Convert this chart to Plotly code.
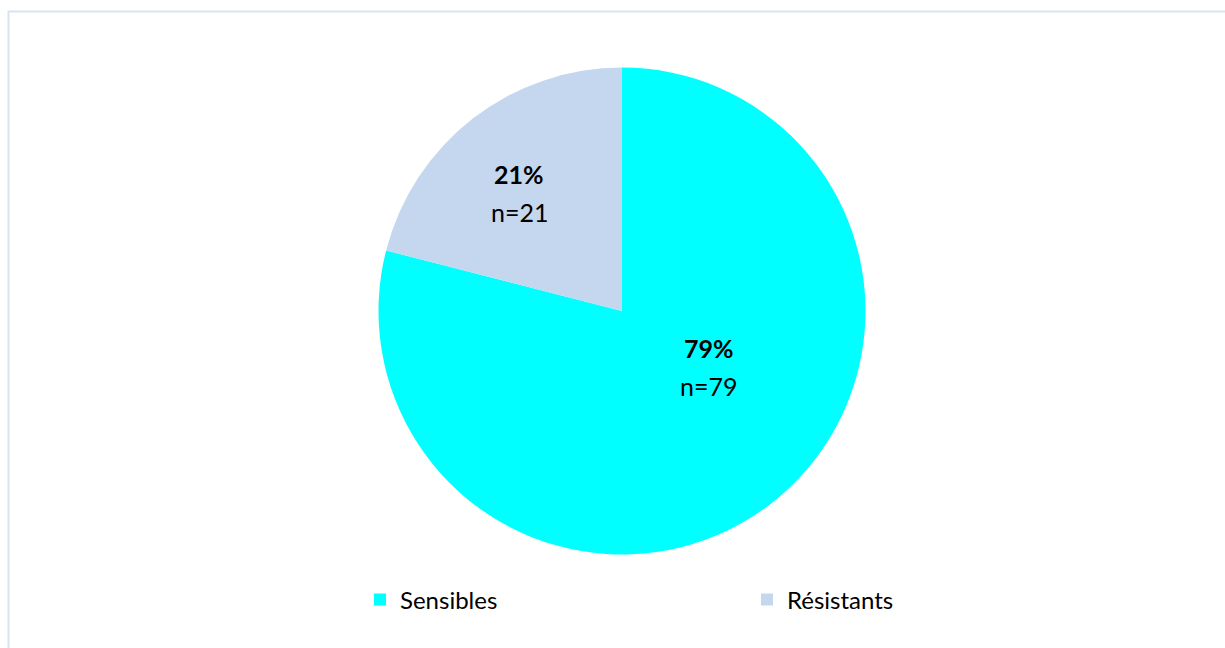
import plotly.graph_objects as go

categories = ["Sensibles", "Résistants"]
counts = [79, 21]
colors = ["#00FFFF", "#C5D7EE"]

W, H = 1225, 648
FONT = "Lato"

total = sum(counts)
pct = [round(100 * c / total) for c in counts]

fig = go.Figure(
    go.Pie(
        labels=categories,
        values=counts,
        sort=False,
        direction="clockwise",
        rotation=0,
        marker=dict(colors=colors, line=dict(width=0)),
        textinfo="none",
        hoverinfo="label+value+percent",
        domain=dict(x=[(622 - 243.5) / W, (622 + 243.5) / W],
                    y=[(337 - 243.5) / H, (337 + 243.5) / H]),
    )
)

# slice labels: bold percentage above, count below
label_pos = [(709 / W, (H - 366.5) / H), (519 / W, (H - 192.5) / H)]
for (x, y), p, n in zip(label_pos, pct, counts):
    fig.add_annotation(
        x=x, y=y, xref="paper", yref="paper", yanchor="middle",
        text=f"<b>{p}%</b>", yshift=19,
        showarrow=False, font=dict(family=FONT, size=25, color="#000000"),
    )
    fig.add_annotation(
        x=x, y=y, xref="paper", yref="paper", yanchor="middle",
        text=f"n={n}", yshift=-19,
        showarrow=False, font=dict(family=FONT, size=25, color="#000000"),
    )

# chart-area frame
fig.add_shape(
    type="rect", xref="paper", yref="paper",
    x0=8.5 / W, x1=1.05, y0=-0.05, y1=(H - 11.5) / H,
    line=dict(color="#DAE3F3", width=2), fillcolor="rgba(0,0,0,0)",
)

fig.update_layout(
    width=W, height=H,
    margin=dict(l=0, r=0, t=0, b=0),
    paper_bgcolor="white", plot_bgcolor="white",
    font=dict(family=FONT, size=24, color="#000000"),
    showlegend=True,
    legend=dict(
        orientation="h", x=360 / W, xanchor="left",
        y=(H - 600) / H, yanchor="middle",
        entrywidthmode="pixels", entrywidth=342,
        font=dict(family=FONT, size=24, color="#000000"),
        bgcolor="rgba(0,0,0,0)",
    ),
)

fig.write_html("out.html")
